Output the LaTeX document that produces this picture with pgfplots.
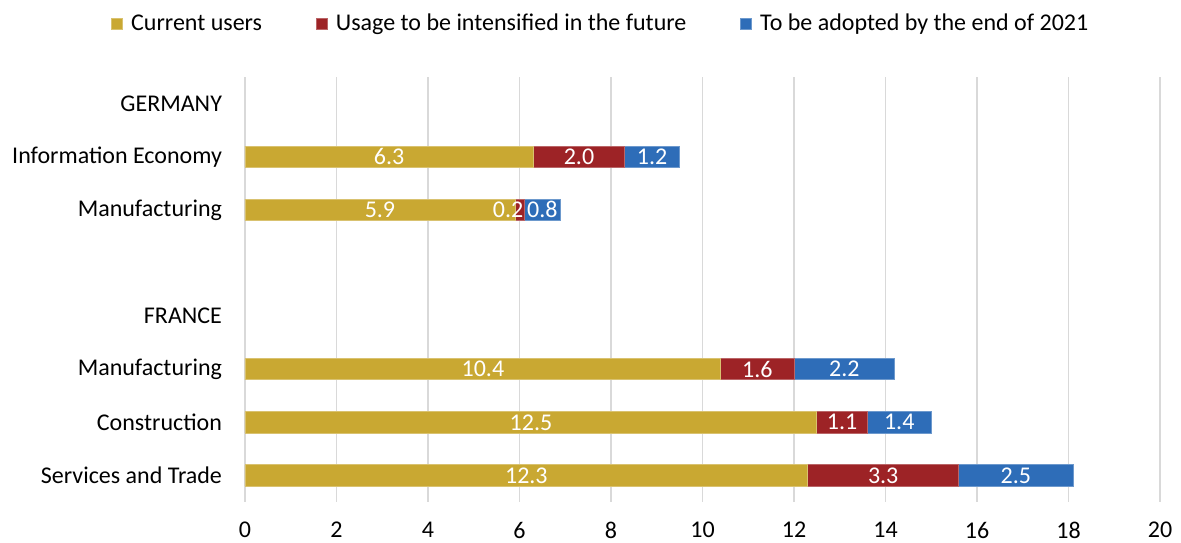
\documentclass[border=0pt]{standalone}
\usepackage{fontspec}
\setmainfont{Carlito}
\usepackage{pgfplots}
\usepackage{pgfplotstable}
\pgfplotsset{compat=1.18}
\definecolor{cgold}{RGB}{201,168,50}
\definecolor{cred}{RGB}{157,35,38}
\definecolor{cblue}{RGB}{46,109,184}
\definecolor{cgrid}{RGB}{217,217,217}
\pgfplotstableread{
pos cur use adopt
1 6.3 2.0 1.2
2 5.9 0.2 0.8
5 10.4 1.6 2.2
6 12.5 1.1 1.4
7 12.3 3.3 2.5
}\datatable
\pgfplotsset{
  common/.style={
    width=457.5pt, height=212.5pt, scale only axis,
    xmin=0, xmax=20, ymin=-0.5, ymax=7.5, y dir=reverse,
  }
}
\begin{document}
\begin{tikzpicture}
\begin{axis}[common,
  xbar stacked, bar width=0.4,
  xtick={0,2,...,20},
  ytick={0,...,7},
  yticklabels={GERMANY, Information Economy, Manufacturing, {}, FRANCE, Manufacturing, Construction, Services and Trade},
  major tick length=0pt,
  axis line style={draw=none},
  xmajorgrids, grid style={cgrid, line width=0.8pt},
  /pgf/number format/assume math mode=true,
  tick label style={font=\fontsize{12}{14}\selectfont, text=black},
  xticklabel style={yshift=-6.5pt},
  yticklabel style={xshift=-8pt},
  legend columns=3,
  legend style={draw=none, fill=none, at={(0.39,1.125)}, anchor=center,
    font=\fontsize{12}{14}\selectfont,
    /tikz/every even column/.append style={column sep=25pt},
    /tikz/every odd column/.append style={column sep=2pt},
    nodes={inner sep=2pt}},
  legend image code/.code={\fill[#1] (0pt,-2.75pt) rectangle (5.5pt,2.75pt);},
]
\addplot[fill=cgold, draw=cgold!70!white, line width=0.4pt] table[x=cur, y=pos]{\datatable};
\addplot[fill=cred, draw=cred!70!white, line width=0.4pt] table[x=use, y=pos]{\datatable};
\addplot[fill=cblue, draw=cblue!70!white, line width=0.4pt] table[x=adopt, y=pos]{\datatable};
\legend{Current users, Usage to be intensified in the future, To be adopted by the end of 2021}
\end{axis}
\begin{axis}[common, hide axis,
  point meta=explicit,
  nodes near coords,
  every node near coord/.append style={anchor=center, text=white, font=\fontsize{12}{14}\selectfont},
  /pgf/number format/.cd, fixed, fixed zerofill, precision=1, assume math mode=true,
]
\addplot[draw=none, nodes near coords] table[x expr=\thisrow{cur}/2, y=pos, meta=cur]{\datatable};
\addplot[draw=none, nodes near coords] table[x expr={ifthenelse(\thisrow{use}<0.5, \thisrow{cur}+\thisrow{use}-0.35, \thisrow{cur}+\thisrow{use}/2)}, y=pos, meta=use]{\datatable};
\addplot[draw=none, nodes near coords] table[x expr=\thisrow{cur}+\thisrow{use}+\thisrow{adopt}/2, y=pos, meta=adopt]{\datatable};
\end{axis}
\pgfresetboundingbox
\path ([xshift=-122.5pt,yshift=-20pt]current axis.south west) rectangle ([xshift=10.5pt,yshift=38.5pt]current axis.north east);
\end{tikzpicture}
\end{document}
